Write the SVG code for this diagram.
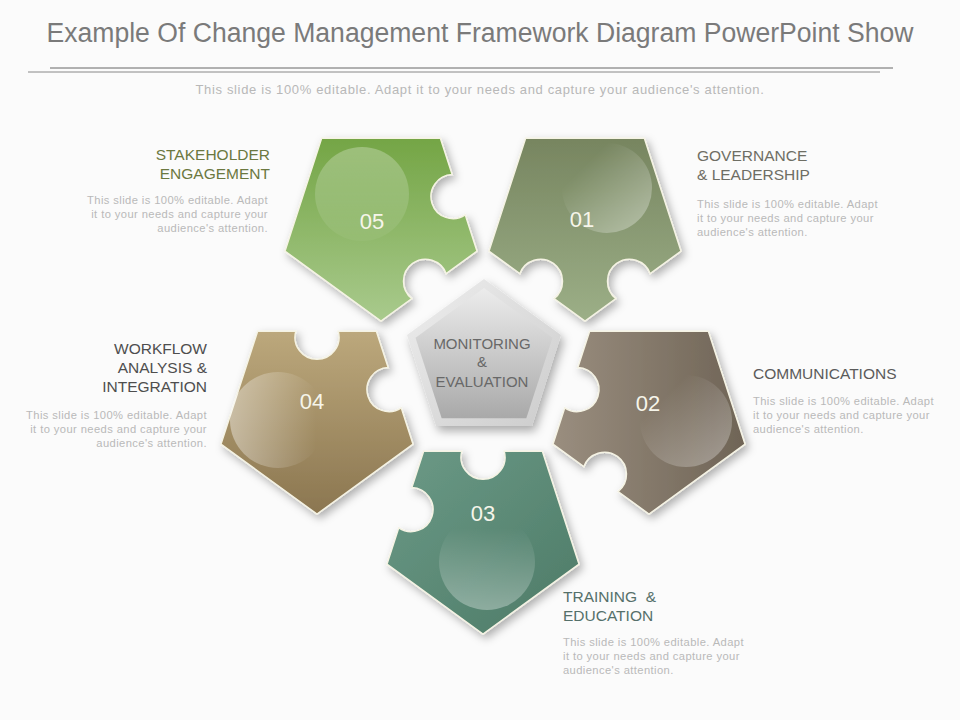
<svg xmlns="http://www.w3.org/2000/svg" width="960" height="720" viewBox="0 0 960 720">
<defs>
<style>
.title{font-family:"Liberation Sans",Arial,sans-serif;font-size:27px;fill:#7a7a7a}
.sub{font-family:"Liberation Sans",Arial,sans-serif;font-size:13px;letter-spacing:0.65px;fill:#b8b8b8}
.head{font-family:"Liberation Sans",Arial,sans-serif;font-size:15.5px}
.desc{font-family:"Liberation Sans",Arial,sans-serif;font-size:11.2px;letter-spacing:0.4px;fill:#b9b9b9}
.num{font-family:"Liberation Sans",Arial,sans-serif;font-size:22px;fill:#f6f5ea;text-anchor:middle}
.ctr{font-family:"Liberation Sans",Arial,sans-serif;font-size:15px;fill:#686868;text-anchor:middle}
.piece{stroke:#f5f3e4;stroke-width:1.5;filter:url(#sh)}
.r{text-anchor:end}
</style>
<filter id="sh" x="-20%" y="-20%" width="150%" height="150%">
<feDropShadow dx="3" dy="4" stdDeviation="4" flood-color="#000" flood-opacity="0.3"/>
</filter>
<filter id="sh2" x="-20%" y="-20%" width="150%" height="150%">
<feDropShadow dx="3" dy="5" stdDeviation="5" flood-color="#000" flood-opacity="0.32"/>
</filter>
<linearGradient id="g05" x1="0" y1="0" x2="0" y2="1"><stop offset="0" stop-color="#74a545"/><stop offset="1" stop-color="#a9ca8d"/></linearGradient>
<linearGradient id="g01" x1="0" y1="0" x2="0" y2="1"><stop offset="0" stop-color="#778560"/><stop offset="1" stop-color="#9caf87"/></linearGradient>
<linearGradient id="g02" x1="0" y1="0" x2="1" y2="0"><stop offset="0" stop-color="#9a8e7f"/><stop offset="1" stop-color="#6f6456"/></linearGradient>
<linearGradient id="g03" x1="0" y1="0" x2="1" y2="1"><stop offset="0" stop-color="#6c9a87"/><stop offset="1" stop-color="#4c7a66"/></linearGradient>
<linearGradient id="g04" x1="0" y1="0" x2="0" y2="1"><stop offset="0" stop-color="#bca87c"/><stop offset="1" stop-color="#8b7650"/></linearGradient>
<linearGradient id="h05" x1="0" y1="0" x2="0" y2="1"><stop offset="0" stop-color="#fff" stop-opacity="0.28"/><stop offset="1" stop-color="#fff" stop-opacity="0.04"/></linearGradient>
<linearGradient id="h01" x1="0" y1="0" x2="1" y2="1"><stop offset="0.25" stop-color="#fff" stop-opacity="0"/><stop offset="1" stop-color="#fff" stop-opacity="0.38"/></linearGradient>
<linearGradient id="h02" x1="0" y1="0" x2="1" y2="1"><stop offset="0.25" stop-color="#fff" stop-opacity="0"/><stop offset="1" stop-color="#fff" stop-opacity="0.36"/></linearGradient>
<linearGradient id="h03" x1="0" y1="0" x2="0" y2="1"><stop offset="0.15" stop-color="#fff" stop-opacity="0"/><stop offset="1" stop-color="#fff" stop-opacity="0.33"/></linearGradient>
<linearGradient id="h04" x1="0" y1="0" x2="1" y2="0"><stop offset="0" stop-color="#fff" stop-opacity="0.4"/><stop offset="0.9" stop-color="#fff" stop-opacity="0"/></linearGradient>
<linearGradient id="gframe" x1="0" y1="0" x2="1" y2="1"><stop offset="0" stop-color="#eeeeee"/><stop offset="1" stop-color="#cccccc"/></linearGradient>
<linearGradient id="gcore" x1="0" y1="0" x2="0" y2="1"><stop offset="0" stop-color="#ececec"/><stop offset="1" stop-color="#a9a9a9"/></linearGradient>
</defs>
<rect width="960" height="720" fill="#fbfbfb"/>
<g id="header">
<text class="title" x="480" y="42" text-anchor="middle" textLength="867" lengthAdjust="spacingAndGlyphs">Example Of Change Management Framework Diagram PowerPoint Show</text>
<line x1="50" y1="68" x2="893" y2="68" stroke="#666" stroke-width="1"/>
<line x1="28" y1="72" x2="880" y2="72" stroke="#888" stroke-width="1"/>
<text class="sub" x="480" y="94" text-anchor="middle">This slide is 100% editable. Adapt it to your needs and capture your audience's attention.</text>
</g>
<g id="connectors"></g>
<g id="center">
<polygon points="484,279 561,335 532,426 436,426 407,335" fill="url(#gframe)" filter="url(#sh2)"/>
<polygon points="484,288 552.5,337.8 526.3,418.3 441.7,418.3 415.5,337.8" fill="url(#gcore)"/>
<text class="ctr" x="482" y="349">MONITORING</text>
<text class="ctr" x="482" y="367">&amp;</text>
<text class="ctr" x="482" y="387">EVALUATION</text>
</g>
<g id="piece05">
<path class="piece" fill="url(#g05)" transform="translate(381,220)" d="M-59.37,-81.71 L59.37,-81.71 L71.17,-45.38 A22,22 0 1 0 84.25,-5.12 L96.06,31.21 L65.16,53.65 A22,22 0 1 0 30.90,78.55 L0,101 L-96.06,31.21 Z"/>
<circle cx="362" cy="194" r="47" fill="url(#h05)"/>
<text class="num" x="372" y="229">05</text>
</g>
<g id="piece01">
<path class="piece" fill="url(#g01)" transform="translate(585,220)" d="M-59.37,-81.71 L59.37,-81.71 L96.06,31.21 L65.16,53.65 A22,22 0 1 0 30.90,78.55 L0,101 L-30.90,78.55 A22,22 0 1 0 -65.16,53.65 L-96.06,31.21 Z"/>
<circle cx="607" cy="188" r="45" fill="url(#h01)"/>
<text class="num" x="582" y="227">01</text>
</g>
<g id="piece02">
<path class="piece" fill="url(#g02)" transform="translate(649,413)" d="M-59.37,-81.71 L59.37,-81.71 L96.06,31.21 L0,101 L-30.90,78.55 A22,22 0 1 0 -65.16,53.65 L-96.06,31.21 L-84.25,-5.12 A22,22 0 1 0 -71.17,-45.38 Z"/>
<circle cx="686" cy="421" r="46" fill="url(#h02)"/>
<text class="num" x="648" y="411">02</text>
</g>
<g id="piece03">
<path class="piece" fill="url(#g03)" transform="translate(483,533)" d="M-59.37,-81.71 L-21.17,-81.71 A22,22 0 1 0 21.17,-81.71 L59.37,-81.71 L96.06,31.21 L0,101 L-96.06,31.21 L-84.25,-5.12 A22,22 0 1 0 -71.17,-45.38 Z"/>
<circle cx="487" cy="562" r="48" fill="url(#h03)"/>
<text class="num" x="483" y="521">03</text>
</g>
<g id="piece04">
<path class="piece" fill="url(#g04)" transform="translate(317,413)" d="M-59.37,-81.71 L-21.17,-81.71 A22,22 0 1 0 21.17,-81.71 L59.37,-81.71 L71.17,-45.38 A22,22 0 1 0 84.25,-5.12 L96.06,31.21 L0,101 L-96.06,31.21 Z"/>
<circle cx="278" cy="420" r="48" fill="url(#h04)"/>
<text class="num" x="312" y="409">04</text>
</g>
<g id="label05">
<text class="head r" x="270" y="160" fill="#6b7840">STAKEHOLDER</text>
<text class="head r" x="270" y="179" fill="#6b7840">ENGAGEMENT</text>
<text class="desc r" x="268" y="204">This slide is 100% editable. Adapt</text>
<text class="desc r" x="268" y="218">it to your needs and capture your</text>
<text class="desc r" x="268" y="232">audience's attention.</text>
</g>
<g id="label01">
<text class="head" x="697" y="161" fill="#6e6e64">GOVERNANCE</text>
<text class="head" x="697" y="180" fill="#6e6e64">&amp; LEADERSHIP</text>
<text class="desc" x="697" y="208">This slide is 100% editable. Adapt</text>
<text class="desc" x="697" y="222">it to your needs and capture your</text>
<text class="desc" x="697" y="236">audience's attention.</text>
</g>
<g id="label04">
<text class="head r" x="207" y="354" fill="#4e4e4e">WORKFLOW</text>
<text class="head r" x="207" y="373" fill="#4e4e4e">ANALYSIS &amp;</text>
<text class="head r" x="207" y="392" fill="#4e4e4e">INTEGRATION</text>
<text class="desc r" x="207" y="419">This slide is 100% editable. Adapt</text>
<text class="desc r" x="207" y="433">it to your needs and capture your</text>
<text class="desc r" x="207" y="447">audience's attention.</text>
</g>
<g id="label02">
<text class="head" x="753" y="379" fill="#5a5a5a">COMMUNICATIONS</text>
<text class="desc" x="753" y="405">This slide is 100% editable. Adapt</text>
<text class="desc" x="753" y="419">it to your needs and capture your</text>
<text class="desc" x="753" y="433">audience's attention.</text>
</g>
<g id="label03">
<text class="head" x="563" y="602" fill="#55706a" xml:space="preserve">TRAINING  &amp;</text>
<text class="head" x="563" y="621" fill="#55706a">EDUCATION</text>
<text class="desc" x="563" y="646">This slide is 100% editable. Adapt</text>
<text class="desc" x="563" y="660">it to your needs and capture your</text>
<text class="desc" x="563" y="674">audience's attention.</text>
</g>
</svg>
